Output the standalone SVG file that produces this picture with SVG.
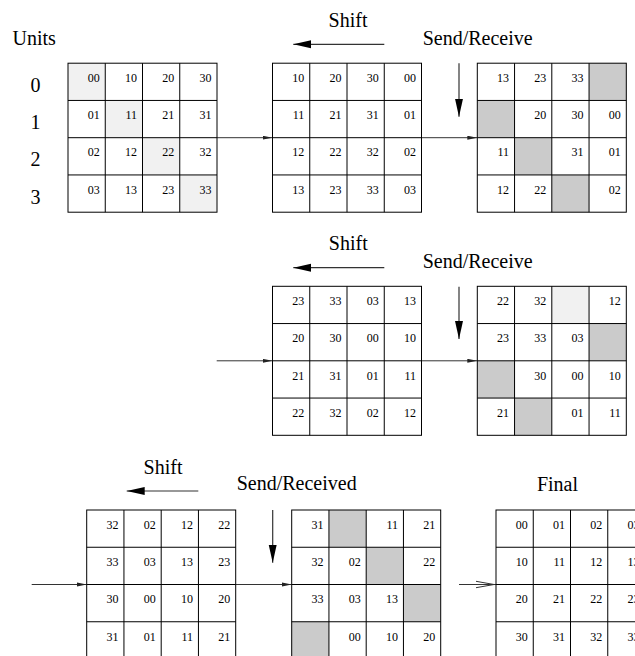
<svg xmlns="http://www.w3.org/2000/svg" xmlns:xlink="http://www.w3.org/1999/xlink" width="635" height="656" viewBox="0 0 635 656">
<style>
.lbl{font-family:"Liberation Serif","Times New Roman",serif;font-size:20px;fill:#000}
.row{font-family:"Liberation Serif","Times New Roman",serif;font-size:20px;fill:#000;text-anchor:middle}
.c{font-family:"Liberation Serif","Times New Roman",serif;font-size:12px;fill:#000;text-anchor:end}
.lt{fill:#f1f1f1}
.dk{fill:#cbcbcb}
.gl{fill:none;stroke:#000;stroke-width:1}
.conn{stroke:#333;stroke-width:1;fill:none}
.big{stroke:#333;stroke-width:1.2;fill:none}
</style>
<defs>
<g id="grid">
<rect class="gl" x="0" y="0" width="149" height="149"/>
<path class="gl" d="M37.25 0V149M74.5 0V149M111.75 0V149M0 37.25H149M0 74.5H149M0 111.75H149"/>
</g>
<marker id="sm" markerUnits="userSpaceOnUse" markerWidth="12" markerHeight="6" refX="10" refY="2.2" orient="auto">
<path d="M0 0.2L10 2.2L0 4.2z" fill="#222"/>
</marker>
<marker id="bg" markerUnits="userSpaceOnUse" markerWidth="20" markerHeight="10" refX="18" refY="4.5" orient="auto">
<path d="M0 0.5L18 4.5L0 8.5z" fill="#000"/>
</marker>
</defs>

<text class="lbl" x="12.5" y="45">Units</text>
<text class="row" x="35.5" y="91.7">0</text>
<text class="row" x="35.5" y="129">1</text>
<text class="row" x="35.5" y="166.3">2</text>
<text class="row" x="35.5" y="203.5">3</text>

<text class="lbl" x="348" y="27" text-anchor="middle">Shift</text>
<text class="lbl" x="422.7" y="45">Send/Receive</text>
<text class="lbl" x="348.3" y="249.5" text-anchor="middle">Shift</text>
<text class="lbl" x="422.7" y="267.5">Send/Receive</text>
<text class="lbl" x="163" y="473.5" text-anchor="middle">Shift</text>
<text class="lbl" x="236.7" y="490">Send/Received</text>
<text class="lbl" x="557.5" y="490.5" text-anchor="middle">Final</text>

<g id="connectors">
<line class="big" x1="384.3" y1="44.3" x2="293.3" y2="44.3" marker-end="url(#bg)"/>
<line class="big" x1="459" y1="63.3" x2="459" y2="116.7" marker-end="url(#bg)"/>
<line class="big" x1="384.3" y1="267.7" x2="293.3" y2="267.7" marker-end="url(#bg)"/>
<line class="big" x1="459" y1="286.7" x2="459" y2="339" marker-end="url(#bg)"/>
<line class="big" x1="198.3" y1="491" x2="126.7" y2="491" marker-end="url(#bg)"/>
<line class="big" x1="272.7" y1="510" x2="272.7" y2="562.7" marker-end="url(#bg)"/>
<line class="conn" x1="217" y1="137.7" x2="272.5" y2="137.7" marker-end="url(#sm)"/>
<line class="conn" x1="421.5" y1="137.7" x2="477.3" y2="137.7" marker-end="url(#sm)"/>
<line class="conn" x1="216.7" y1="360.8" x2="272.5" y2="360.8" marker-end="url(#sm)"/>
<line class="conn" x1="421.5" y1="360.8" x2="477.3" y2="360.8" marker-end="url(#sm)"/>
<line class="conn" x1="31.7" y1="584.5" x2="86.7" y2="584.5" marker-end="url(#sm)"/>
<line class="conn" x1="235.7" y1="584.5" x2="291.7" y2="584.5" marker-end="url(#sm)"/>
<line class="conn" x1="459" y1="584.5" x2="496" y2="584.5"/>
<path class="conn" d="M476 581.3L494 584.5L476 587.7"/>
</g>

<g id="grid1" transform="translate(68,63.2)">
<rect class="lt" x="0" y="0" width="37.25" height="37.25"/>
<rect class="lt" x="37.25" y="37.25" width="37.25" height="37.25"/>
<rect class="lt" x="74.5" y="74.5" width="37.25" height="37.25"/>
<rect class="lt" x="111.75" y="111.75" width="37.25" height="37.25"/>
<use xlink:href="#grid"/>
<text class="c" x="31.75" y="18.8">00</text><text class="c" x="69" y="18.8">10</text><text class="c" x="106.25" y="18.8">20</text><text class="c" x="143.5" y="18.8">30</text>
<text class="c" x="31.75" y="56">01</text><text class="c" x="69" y="56">11</text><text class="c" x="106.25" y="56">21</text><text class="c" x="143.5" y="56">31</text>
<text class="c" x="31.75" y="93.3">02</text><text class="c" x="69" y="93.3">12</text><text class="c" x="106.25" y="93.3">22</text><text class="c" x="143.5" y="93.3">32</text>
<text class="c" x="31.75" y="130.5">03</text><text class="c" x="69" y="130.5">13</text><text class="c" x="106.25" y="130.5">23</text><text class="c" x="143.5" y="130.5">33</text>
</g>

<g id="grid2" transform="translate(272.5,63.2)">
<use xlink:href="#grid"/>
<text class="c" x="31.75" y="18.8">10</text><text class="c" x="69" y="18.8">20</text><text class="c" x="106.25" y="18.8">30</text><text class="c" x="143.5" y="18.8">00</text>
<text class="c" x="31.75" y="56">11</text><text class="c" x="69" y="56">21</text><text class="c" x="106.25" y="56">31</text><text class="c" x="143.5" y="56">01</text>
<text class="c" x="31.75" y="93.3">12</text><text class="c" x="69" y="93.3">22</text><text class="c" x="106.25" y="93.3">32</text><text class="c" x="143.5" y="93.3">02</text>
<text class="c" x="31.75" y="130.5">13</text><text class="c" x="69" y="130.5">23</text><text class="c" x="106.25" y="130.5">33</text><text class="c" x="143.5" y="130.5">03</text>
</g>

<g id="grid3" transform="translate(477.3,63.2)">
<rect class="dk" x="111.75" y="0" width="37.25" height="37.25"/>
<rect class="dk" x="0" y="37.25" width="37.25" height="37.25"/>
<rect class="dk" x="37.25" y="74.5" width="37.25" height="37.25"/>
<rect class="dk" x="74.5" y="111.75" width="37.25" height="37.25"/>
<use xlink:href="#grid"/>
<text class="c" x="31.75" y="18.8">13</text><text class="c" x="69" y="18.8">23</text><text class="c" x="106.25" y="18.8">33</text>
<text class="c" x="69" y="56">20</text><text class="c" x="106.25" y="56">30</text><text class="c" x="143.5" y="56">00</text>
<text class="c" x="31.75" y="93.3">11</text><text class="c" x="106.25" y="93.3">31</text><text class="c" x="143.5" y="93.3">01</text>
<text class="c" x="31.75" y="130.5">12</text><text class="c" x="69" y="130.5">22</text><text class="c" x="143.5" y="130.5">02</text>
</g>

<g id="grid4" transform="translate(272.5,286.3)">
<use xlink:href="#grid"/>
<text class="c" x="31.75" y="18.8">23</text><text class="c" x="69" y="18.8">33</text><text class="c" x="106.25" y="18.8">03</text><text class="c" x="143.5" y="18.8">13</text>
<text class="c" x="31.75" y="56">20</text><text class="c" x="69" y="56">30</text><text class="c" x="106.25" y="56">00</text><text class="c" x="143.5" y="56">10</text>
<text class="c" x="31.75" y="93.3">21</text><text class="c" x="69" y="93.3">31</text><text class="c" x="106.25" y="93.3">01</text><text class="c" x="143.5" y="93.3">11</text>
<text class="c" x="31.75" y="130.5">22</text><text class="c" x="69" y="130.5">32</text><text class="c" x="106.25" y="130.5">02</text><text class="c" x="143.5" y="130.5">12</text>
</g>

<g id="grid5" transform="translate(477.3,286.3)">
<rect class="lt" x="74.5" y="0" width="37.25" height="37.25"/>
<rect class="dk" x="111.75" y="37.25" width="37.25" height="37.25"/>
<rect class="dk" x="0" y="74.5" width="37.25" height="37.25"/>
<rect class="dk" x="37.25" y="111.75" width="37.25" height="37.25"/>
<use xlink:href="#grid"/>
<text class="c" x="31.75" y="18.8">22</text><text class="c" x="69" y="18.8">32</text><text class="c" x="143.5" y="18.8">12</text>
<text class="c" x="31.75" y="56">23</text><text class="c" x="69" y="56">33</text><text class="c" x="106.25" y="56">03</text>
<text class="c" x="69" y="93.3">30</text><text class="c" x="106.25" y="93.3">00</text><text class="c" x="143.5" y="93.3">10</text>
<text class="c" x="31.75" y="130.5">21</text><text class="c" x="106.25" y="130.5">01</text><text class="c" x="143.5" y="130.5">11</text>
</g>

<g id="grid6" transform="translate(86.7,510)">
<use xlink:href="#grid"/>
<text class="c" x="31.75" y="18.8">32</text><text class="c" x="69" y="18.8">02</text><text class="c" x="106.25" y="18.8">12</text><text class="c" x="143.5" y="18.8">22</text>
<text class="c" x="31.75" y="56">33</text><text class="c" x="69" y="56">03</text><text class="c" x="106.25" y="56">13</text><text class="c" x="143.5" y="56">23</text>
<text class="c" x="31.75" y="93.3">30</text><text class="c" x="69" y="93.3">00</text><text class="c" x="106.25" y="93.3">10</text><text class="c" x="143.5" y="93.3">20</text>
<text class="c" x="31.75" y="130.5">31</text><text class="c" x="69" y="130.5">01</text><text class="c" x="106.25" y="130.5">11</text><text class="c" x="143.5" y="130.5">21</text>
</g>

<g id="grid7" transform="translate(291.7,510)">
<rect class="dk" x="37.25" y="0" width="37.25" height="37.25"/>
<rect class="dk" x="74.5" y="37.25" width="37.25" height="37.25"/>
<rect class="dk" x="111.75" y="74.5" width="37.25" height="37.25"/>
<rect class="dk" x="0" y="111.75" width="37.25" height="37.25"/>
<use xlink:href="#grid"/>
<text class="c" x="31.75" y="18.8">31</text><text class="c" x="106.25" y="18.8">11</text><text class="c" x="143.5" y="18.8">21</text>
<text class="c" x="31.75" y="56">32</text><text class="c" x="69" y="56">02</text><text class="c" x="143.5" y="56">22</text>
<text class="c" x="31.75" y="93.3">33</text><text class="c" x="69" y="93.3">03</text><text class="c" x="106.25" y="93.3">13</text>
<text class="c" x="69" y="130.5">00</text><text class="c" x="106.25" y="130.5">10</text><text class="c" x="143.5" y="130.5">20</text>
</g>

<g id="grid8" transform="translate(496,510)">
<use xlink:href="#grid"/>
<text class="c" x="31.75" y="18.8">00</text><text class="c" x="69" y="18.8">01</text><text class="c" x="106.25" y="18.8">02</text><text class="c" x="143.5" y="18.8">03</text>
<text class="c" x="31.75" y="56">10</text><text class="c" x="69" y="56">11</text><text class="c" x="106.25" y="56">12</text><text class="c" x="143.5" y="56">13</text>
<text class="c" x="31.75" y="93.3">20</text><text class="c" x="69" y="93.3">21</text><text class="c" x="106.25" y="93.3">22</text><text class="c" x="143.5" y="93.3">23</text>
<text class="c" x="31.75" y="130.5">30</text><text class="c" x="69" y="130.5">31</text><text class="c" x="106.25" y="130.5">32</text><text class="c" x="143.5" y="130.5">33</text>
</g>
</svg>
